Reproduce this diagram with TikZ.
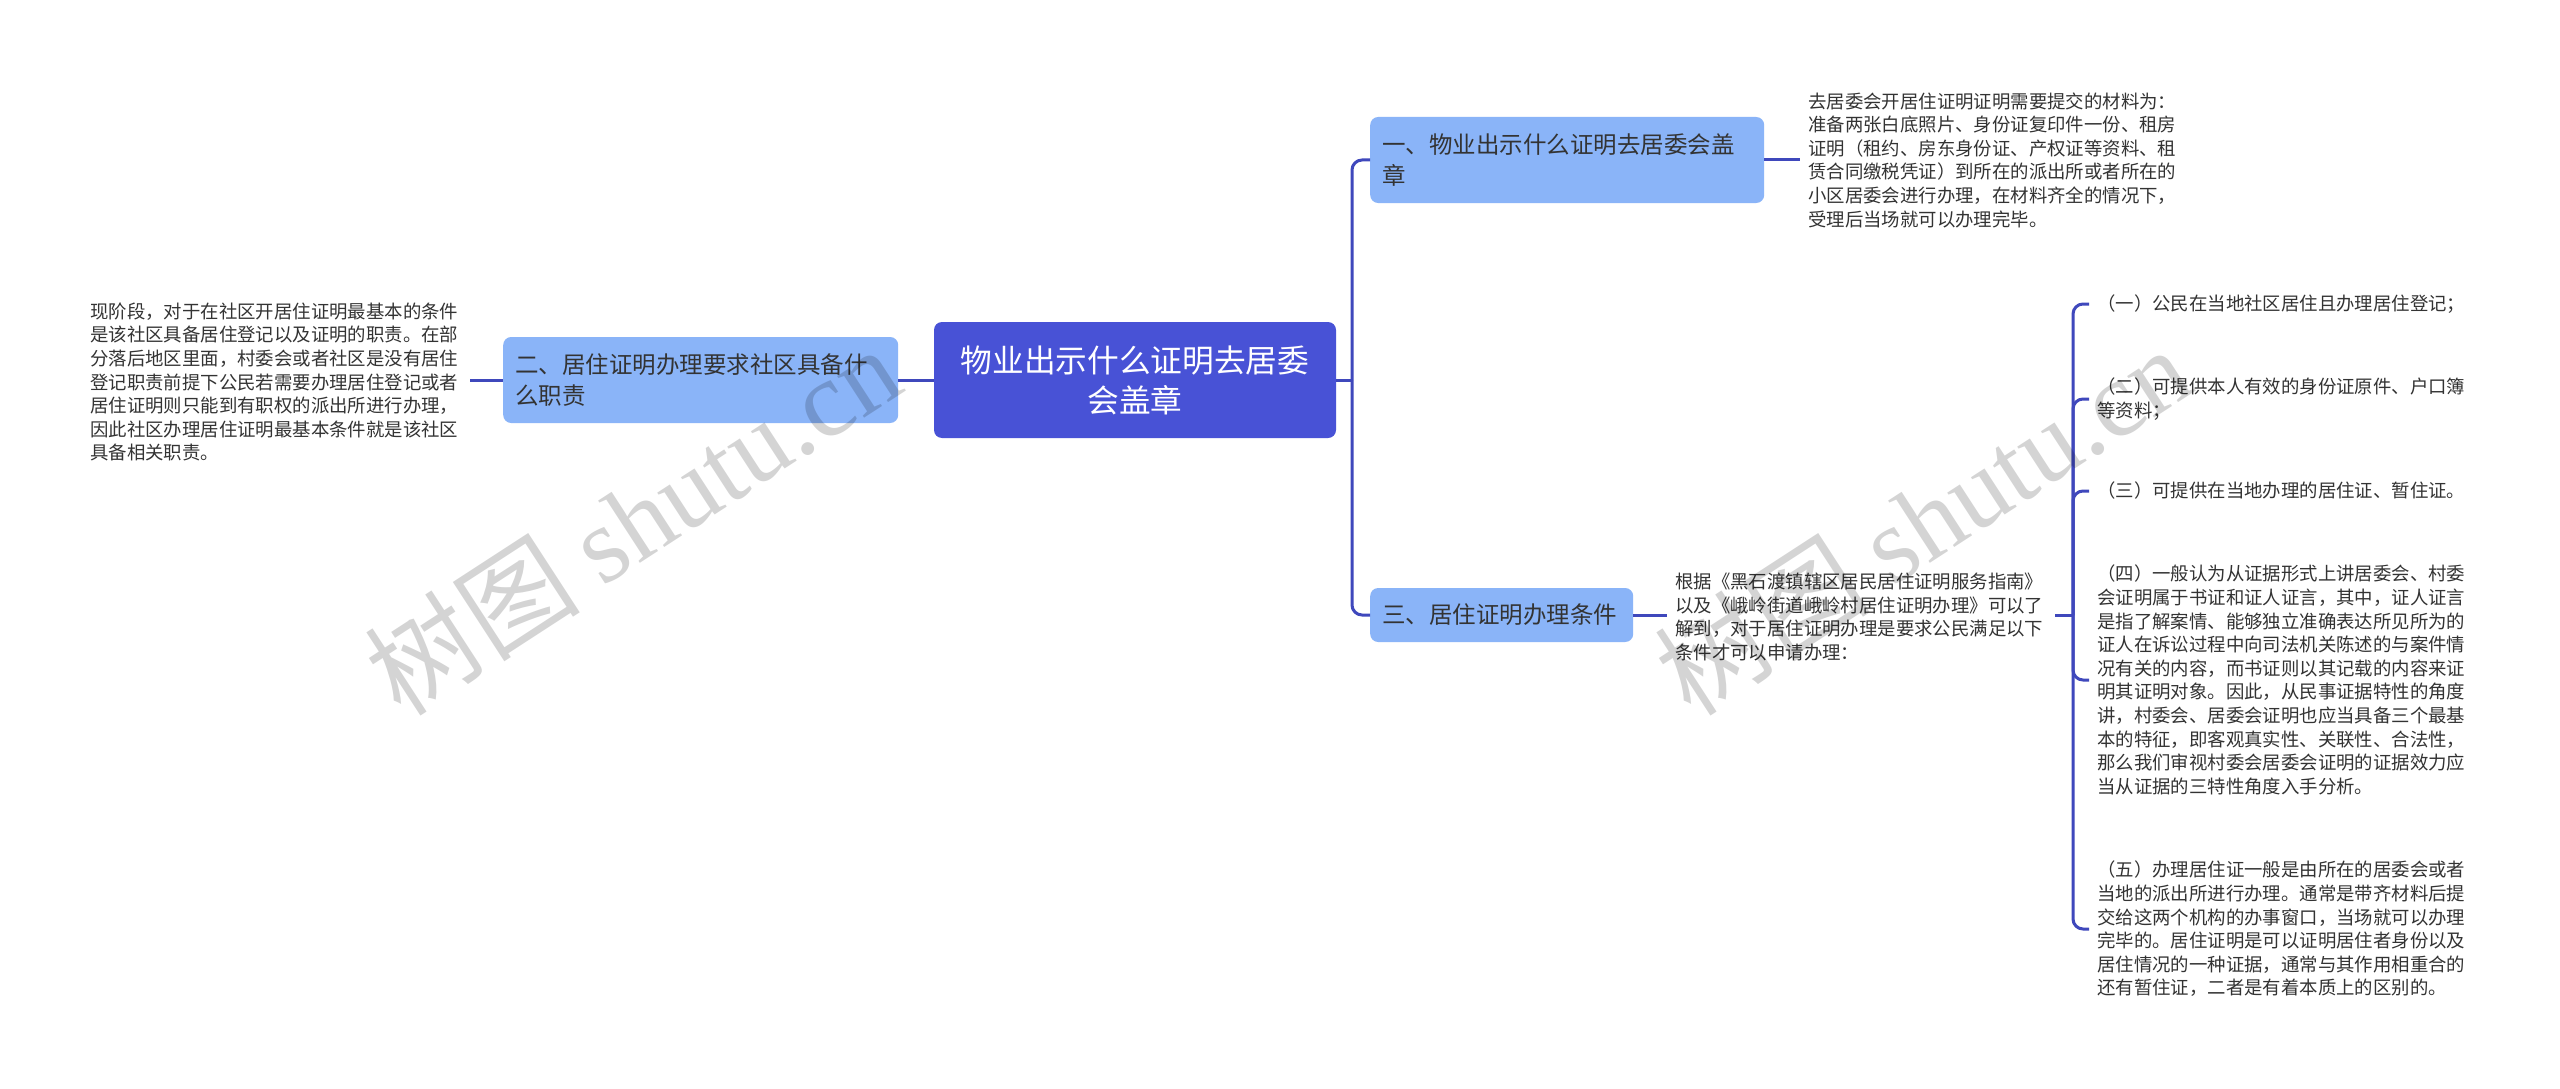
\documentclass[tikz,border=0pt]{standalone}
\usepackage{fontspec}
\setmainfont{Noto Sans CJK SC}
\newfontfamily\wmlatin{Liberation Serif}
\usetikzlibrary{calc}
\definecolor{rootfill}{HTML}{4852D6}
\definecolor{branchfill}{HTML}{8AB4F8}
\definecolor{conncol}{HTML}{3F48BC}
\definecolor{txt}{HTML}{333333}
\tikzset{
  rootbox/.style={fill=rootfill, rounded corners=8pt, text=white, align=center,
    minimum width=402pt, minimum height=116pt, inner sep=0pt,
    font=\fontsize{31.7}{40}\selectfont},
  branchbox/.style={fill=branchfill, rounded corners=8pt, text=txt, align=left,
    inner xsep=12pt, inner ysep=0pt, anchor=west,
    font=\fontsize{23.5}{31.5}\selectfont},
  leaftext/.style={text=txt, align=left, text width=372pt, inner xsep=8pt, inner ysep=0pt,
    anchor=west, font=\fontsize{18.4}{23.6}\selectfont},
  conn/.style={draw=conncol, line width=3pt},
  elbow/.style={conn, rounded corners=10pt},
  watermark/.style={text=black, opacity=0.17, rotate=33, inner sep=0pt}
}
\begin{document}
\begin{tikzpicture}[x=1pt,y=-1pt]
\useasboundingbox (0,0) rectangle (2560,1089);
\fill[white] (0,0) rectangle (2560,1089);

% root
\node[rootbox] (root) at (1135,380) {物业出示什么证明去居委\\会盖章};

% branches
\node[branchbox, text width=370pt, minimum height=86pt] (b1) at (1370,160)
  {一、物业出示什么证明去居委会盖\\章};
\node[branchbox, text width=371pt, minimum height=86pt] (b2) at (503,380)
  {二、居住证明办理要求社区具备什\\么职责};
\node[branchbox, text width=239pt, minimum height=54pt] (b3) at (1370,615)
  {三、居住证明办理条件};

% leaves
\node[leaftext] (la) at (1800,160) {去居委会开居住证明证明需要提交的材料为：\\
准备两张白底照片、身份证复印件一份、租房\\
证明（租约、房东身份证、产权证等资料、租\\
赁合同缴税凭证）到所在的派出所或者所在的\\
小区居委会进行办理，在材料齐全的情况下，\\
受理后当场就可以办理完毕。};

\node[leaftext] (ll) at (82,382) {现阶段，对于在社区开居住证明最基本的条件\\
是该社区具备居住登记以及证明的职责。在部\\
分落后地区里面，村委会或者社区是没有居住\\
登记职责前提下公民若需要办理居住登记或者\\
居住证明则只能到有职权的派出所进行办理，\\
因此社区办理居住证明最基本条件就是该社区\\
具备相关职责。};

\node[leaftext] (lc) at (1667,617) {根据《黑石渡镇辖区居民居住证明服务指南》\\
以及《峨岭街道峨岭村居住证明办理》可以了\\
解到，对于居住证明办理是要求公民满足以下\\
条件才可以申请办理：};

% items
\node[leaftext] (i1) at (2089,304) {（一）公民在当地社区居住且办理居住登记；};
\node[leaftext] (i2) at (2089,399) {（二）可提供本人有效的身份证原件、户口簿\\等资料；};
\node[leaftext] (i3) at (2089,491) {（三）可提供在当地办理的居住证、暂住证。};
\node[leaftext] (i4) at (2089,680) {（四）一般认为从证据形式上讲居委会、村委\\
会证明属于书证和证人证言，其中，证人证言\\
是指了解案情、能够独立准确表达所见所为的\\
证人在诉讼过程中向司法机关陈述的与案件情\\
况有关的内容，而书证则以其记载的内容来证\\
明其证明对象。因此，从民事证据特性的角度\\
讲，村委会、居委会证明也应当具备三个最基\\
本的特征，即客观真实性、关联性、合法性，\\
那么我们审视村委会居委会证明的证据效力应\\
当从证据的三特性角度入手分析。};
\node[leaftext] (i5) at (2089,929) {（五）办理居住证一般是由所在的居委会或者\\
当地的派出所进行办理。通常是带齐材料后提\\
交给这两个机构的办事窗口，当场就可以办理\\
完毕的。居住证明是可以证明居住者身份以及\\
居住情况的一种证据，通常与其作用相重合的\\
还有暂住证，二者是有着本质上的区别的。};

% junctions
\coordinate (j1) at (1352,380);
\coordinate (j2) at (2073,615);

% connectors
\draw[conn] (root.east) -- (j1);
\draw[elbow] (j1) |- (b1.west);
\draw[elbow] (j1) |- (b3.west);
\draw[conn] (root.west) -- (b2.east);
\draw[conn] (b2.west) -- (b2.west -| ll.east);
\draw[conn] (b1.east) -- (b1.east -| la.west);
\draw[conn] (b3.east) -- (b3.east -| lc.west);
\draw[conn] (b3.east -| lc.east) -- (j2);
\draw[elbow] (j2) |- (i1.west);
\draw[elbow] (j2) |- (i2.west);
\draw[elbow] (j2) |- (i3.west);
\draw[elbow] (j2) |- (i4.west);
\draw[elbow] (j2) |- (i5.west);

% watermarks
\node[watermark] (wm1) at (632,520) {\fontsize{108}{108}\selectfont 树图 {\wmlatin shutu.cn}};
\node[watermark] (wm2) at (1922,520) {\fontsize{108}{108}\selectfont 树图 {\wmlatin shutu.cn}};
\end{tikzpicture}
\end{document}
